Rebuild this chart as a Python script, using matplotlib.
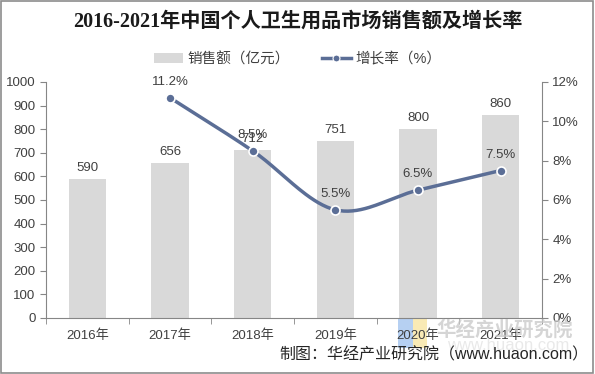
import numpy as np
import matplotlib
matplotlib.use("Agg")
import matplotlib.pyplot as plt
from matplotlib.patches import Rectangle
from matplotlib.lines import Line2D
from matplotlib.patches import Patch

plt.rcParams['font.family'] = ['Liberation Sans', 'Noto Sans CJK SC', 'DejaVu Sans']

categories = ["2016年", "2017年", "2018年", "2019年", "2020年", "2021年"]
sales = [590, 656, 712, 751, 800, 860]
growth_years_idx = [1, 2, 3, 4, 5]
growth = [11.2, 8.5, 5.5, 6.5, 7.5]
growth_labels = ["11.2%", "8.5%", "5.5%", "6.5%", "7.5%"]

bar_color = "#D9D9D9"
line_color = "#5B6E96"
axis_color = "#868686"
text_color = "#404040"

fig = plt.figure(figsize=(5.95, 3.74), dpi=100)
ax = fig.add_axes([46/595, 1-318/374, (542-46)/595, (318-82)/374])
ax2 = ax.twinx()

x = np.arange(len(categories))
ax.bar(x, sales, width=0.45, color=bar_color, zorder=2)
for xi, v in zip(x, sales):
    ax.text(xi, v + 22, str(v), ha='center', va='bottom', fontsize=9.5, color=text_color, zorder=5)

ax.set_xlim(-0.5, len(categories) - 0.5)
ax.set_ylim(0, 1000)
ax.set_yticks(np.arange(0, 1001, 100))
ax.set_xticks(x)
ax.set_xticklabels(categories, fontsize=9.5, color=text_color)
ax.set_xticks(np.arange(-0.5, len(categories), 1.0), minor=True)
ax.tick_params(axis='x', which='major', length=0, pad=8)
ax.tick_params(axis='x', which='minor', length=4, color=axis_color, direction='out')
ax.tick_params(axis='y', labelsize=9.5, colors=text_color, length=4, color=axis_color, direction='out')
for s in ['top', 'right']:
    ax.spines[s].set_visible(False)
ax.spines['left'].set_color(axis_color)
ax.spines['bottom'].set_color(axis_color)

# smooth curve (Catmull-Rom) through growth points
px = np.array(growth_years_idx, dtype=float)
py = np.array(growth, dtype=float)
P = np.column_stack([px, py])
Pext = np.vstack([P[0] - (P[1] - P[0]), P, P[-1] + (P[-1] - P[-2])])
curve = []
for i in range(1, len(Pext) - 2):
    p0, p1, p2, p3 = Pext[i-1], Pext[i], Pext[i+1], Pext[i+2]
    t = np.linspace(0, 1, 40)[:, None]
    seg = 0.5 * ((2*p1) + (-p0 + p2)*t + (2*p0 - 5*p1 + 4*p2 - p3)*t**2 + (-p0 + 3*p1 - 3*p2 + p3)*t**3)
    curve.append(seg)
curve = np.vstack(curve)
ax2.plot(curve[:, 0], curve[:, 1], color=line_color, lw=2.5, zorder=3, solid_capstyle='round')
ax2.plot(px, py, 'o', color=line_color, markersize=6.5, markeredgecolor='white', markeredgewidth=1.2, zorder=4)
for xi, yi, lab in zip(px, py, growth_labels):
    ax2.text(xi, yi + 0.8, lab, ha='center', va='center', fontsize=9.5, color=text_color, zorder=5)

ax2.set_ylim(0, 12)
ax2.set_yticks(np.arange(0, 13, 2))
ax2.set_yticklabels([f"{v}%" for v in range(0, 13, 2)])
ax2.tick_params(axis='y', labelsize=9.5, colors=text_color, length=4, color=axis_color, direction='out')
for s in ['top', 'left', 'bottom']:
    ax2.spines[s].set_visible(False)
ax2.spines['right'].set_color(axis_color)

ax.set_zorder(ax2.get_zorder() - 1)
ax.patch.set_visible(True)
ax2.patch.set_visible(False)

# title
fig.text(0.5, 1-22/374, "2016-2021年中国个人卫生用品市场销售额及增长率", ha='center', va='center',
         fontsize=14.5, fontweight='bold', color='#1a1a1a',
         family=['Liberation Serif', 'Noto Sans CJK SC', 'DejaVu Sans'])

# legend
handles = [Patch(facecolor=bar_color, edgecolor='none'),
           Line2D([0], [0], color=line_color, lw=2.5, marker='o', markersize=5,
                  markeredgecolor='white', markeredgewidth=0.8)]
fig.legend(handles, ["销售额（亿元）", "增长率（%）"], loc='center', bbox_to_anchor=(0.5, 1-59/374),
           ncol=2, frameon=False, fontsize=10.5, labelcolor=text_color, handlelength=2.0,
           columnspacing=2.2, handletextpad=0.3)

# watermark (logo behind the axis labels)
fig.add_artist(Rectangle((398/595, 1-348/374), 15/595, 29/374, transform=fig.transFigure,
                         facecolor='#A9C8F0', edgecolor='none', alpha=0.85, zorder=-5))
fig.add_artist(Rectangle((413/595, 1-348/374), 14/595, 29/374, transform=fig.transFigure,
                         facecolor='#F8E7A8', edgecolor='none', alpha=0.85, zorder=-5))
fig.text(505/595, 1-330/374, "华经产业研究院", ha='center', va='center', fontsize=14,
         color='#C8C8C8', alpha=0.75, fontweight='bold', family=['Noto Sans CJK SC'])
fig.text(508/595, 1-346/374, "www.huaon.com", ha='center', va='center', fontsize=12,
         color='#E0E0E0', alpha=0.7)

# source
fig.text(588/595, 1-355/374, "制图：华经产业研究院（www.huaon.com）", ha='right', va='center',
         fontsize=11.5, color='#262626')

# border
fig.add_artist(Rectangle((0.002, 0.003), 0.995, 0.994, transform=fig.transFigure,
                         fill=False, edgecolor='#8C8C8C', lw=1.2))

fig.savefig("out.png", dpi=100)
